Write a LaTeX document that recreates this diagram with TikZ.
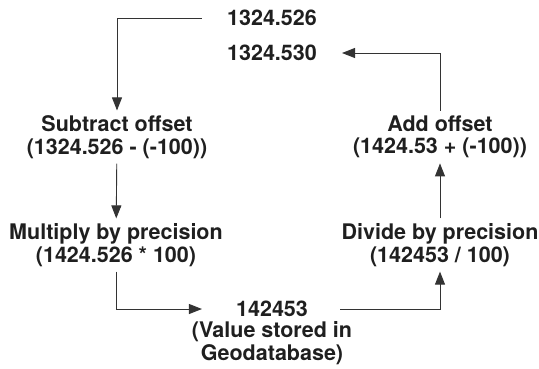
\documentclass[tikz,border=0pt]{standalone}
\usepackage{fontspec}
\setmainfont{TeX Gyre Heros}
\usetikzlibrary{arrows.meta,calc,positioning}

\begin{document}
\begin{tikzpicture}[x=1pt, y=-1pt,
  lbl/.style={align=center, font=\fontsize{21.5}{22.5}\selectfont\bfseries, inner xsep=0pt, inner ysep=5pt, text=black!88},
  arr/.style={-{Triangle[length=13pt,width=10pt]}, line width=0.9pt, draw=black!80}]

\useasboundingbox (0,0) rectangle (539,368);

% Ciclo del valore: offset, precisione, geodatabase e ritorno
\node[lbl] (orig) at (272,18) {1324.526};
\node[lbl] (back) at (272,53) {1324.530};
\node[lbl] (sub) at (117,137) {Subtract offset\\(1324.526 - (-100))};
\node[lbl] (mul) at (116,245) {Multiply by precision\\(1424.526 * 100)};
\node[lbl] (add) at (440,137) {Add offset\\(1424.53 + (-100))};
\node[lbl] (div) at (440,245) {Divide by precision\\(142453 / 100)};
\node[lbl] (val) at (272,309) {142453};
\node[lbl, inner ysep=0pt] (note) at (272,343) {(Value stored in\\Geodatabase)};

\draw[arr, shorten <=25pt] (orig) -| (sub);
\draw[arr] (sub) -- (mul);
\draw[arr, shorten >=34pt] (mul) |- (val);
\draw[arr, shorten <=32pt] (val) -| (div);
\draw[arr] (div) -- (add);
\draw[arr, shorten >=25pt] (add) |- (back);

\end{tikzpicture}
\end{document}
